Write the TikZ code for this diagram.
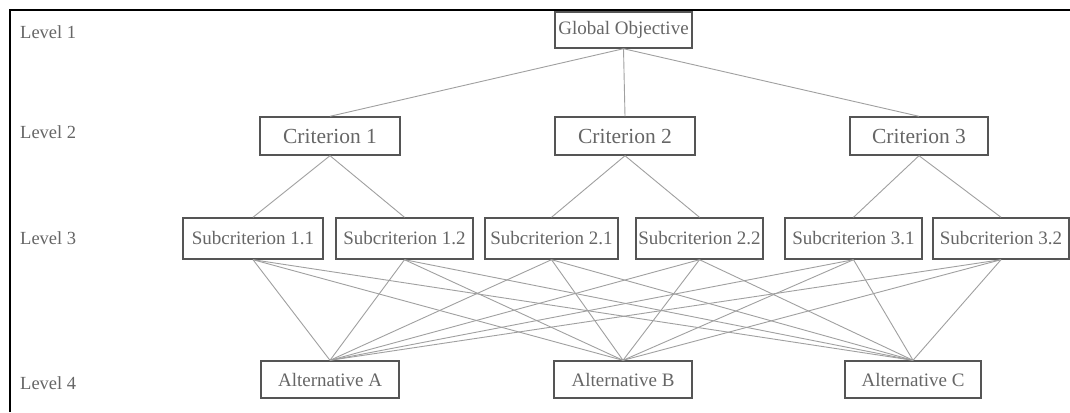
\documentclass[tikz,border=0pt]{standalone}
\usepackage{fontspec}
\setmainfont{Liberation Serif}
\usepackage{xcolor}
\definecolor{txt}{HTML}{666666}
\definecolor{edge}{HTML}{555555}
\definecolor{wire}{HTML}{A0A0A0}
\tikzset{
  box/.style={draw=edge, line width=1.4pt, text=txt, inner sep=0pt, minimum height=38pt, font=\fontsize{19}{22}\selectfont},
  bigbox/.style={box, font=\fontsize{21.5}{24}\selectfont},
  link/.style={draw=wire, line width=0.9pt},
  lvl/.style={anchor=west, text=txt, inner sep=0pt, font=\fontsize{18.5}{22}\selectfont},
}

\begin{document}
\begin{tikzpicture}[x=1pt, y=-1pt]
  \useasboundingbox (0,0) rectangle (1070,412);
  \fill[white] (0,0) rectangle (1070,412);
  \draw[black, line width=2.5pt] (10,412) -- (10,10) -- (1070,10);
  % level labels
  \node[lvl] (lv1) at (20,32) {Level 1};
  \node[lvl] (lv2) at (20,132) {Level 2};
  \node[lvl] (lv3) at (20,238) {Level 3};
  \node[lvl] (lv4) at (20,383) {Level 4};
  % level 1 and 2
  \node[box, minimum width=137pt, minimum height=36pt] (glob) at (623.5,30) {Global Objective};
  \node[bigbox, minimum width=140pt] (crit1) at (330,136) {Criterion 1};
  \node[bigbox, minimum width=140pt] (crit2) at (625,136) {Criterion 2};
  \node[bigbox, minimum width=138pt] (crit3) at (919,136) {Criterion 3};
  % level 3
  \node[box, minimum width=140pt, minimum height=41pt] (sub11) at (253,238.5) {Subcriterion 1.1};
  \node[box, minimum width=137pt, minimum height=41pt] (sub12) at (404.5,238.5) {Subcriterion 1.2};
  \node[box, minimum width=133pt, minimum height=41pt] (sub21) at (551.5,238.5) {Subcriterion 2.1};
  \node[box, minimum width=127pt, minimum height=41pt] (sub22) at (699.5,238.5) {Subcriterion 2.2};
  \node[box, minimum width=137pt, minimum height=41pt] (sub31) at (853.5,238.5) {Subcriterion 3.1};
  \node[box, minimum width=136pt, minimum height=41pt] (sub32) at (1001,238.5) {Subcriterion 3.2};
  % level 4
  \node[box, minimum width=138pt, minimum height=37pt] (altA) at (330,379.5) {Alternative A};
  \node[box, minimum width=138pt, minimum height=37pt] (altB) at (623,379.5) {Alternative B};
  \node[box, minimum width=136pt, minimum height=37pt] (altC) at (913,379.5) {Alternative C};
  % connectors
  \foreach \c in {1,2,3}
    \draw[link] (glob.south) -- (crit\c.north);
  \foreach \c in {1,2,3} {
    \draw[link] (crit\c.south) -- (sub\c1.north);
    \draw[link] (crit\c.south) -- (sub\c2.north);
  }
  \foreach \s in {11,12,21,22,31,32}
    \foreach \a in {A,B,C}
      \draw[link] (sub\s.south) -- (alt\a.north);
\end{tikzpicture}
\end{document}
